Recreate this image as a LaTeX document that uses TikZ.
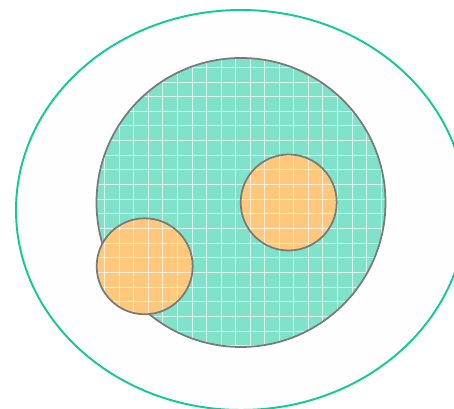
\documentclass[tikz,border=0pt]{standalone}
\usepackage{tikz}

\definecolor{rimgreen}{HTML}{14C998}
\definecolor{mint}{HTML}{80E2C8}
\definecolor{peach}{HTML}{FFC87C}
\definecolor{edgegray}{HTML}{7A7A7A}

% grid over whatever is clipped
\newcommand{\whitegrid}{%
  \foreach \k in {-12,...,20} {
    \draw[gridline] (148.3+14.55*\k, 0) -- (148.3+14.55*\k, 409);
    \draw[gridline] (0, 341.7-14.65*\k) -- (454, 341.7-14.65*\k);
  }}

\begin{document}
\begin{tikzpicture}[
    x=0.02cm, y=0.02cm,
    outer/.style={draw=rimgreen, line width=1.1pt, fill=gray!1},
    bigdisc/.style={fill=mint},
    spot/.style={fill=peach},
    rim/.style={draw=edgegray, line width=1pt},
    gridline/.style={white, line width=0.5pt, opacity=0.7}
]
\useasboundingbox (0,0) rectangle (454,409);
\clip (0,0) rectangle (454,409);

% outer ellipse
\draw[outer] (241,199) ellipse [x radius=225, y radius=200];

% big disc with grid
\fill[bigdisc] (241,206.5) circle (144.5);
\begin{scope}
  \clip (241,206.5) circle (144.5);
  \whitegrid
\end{scope}
\draw[rim] (241,206.5) circle (144.5);

% two spots
\foreach \cx/\cy in {288.7/206.5, 144.7/142.7} {
  \fill[spot] (\cx,\cy) circle (48);
  \begin{scope}
    \clip (\cx,\cy) circle (48);
    \whitegrid
  \end{scope}
  \draw[rim] (\cx,\cy) circle (48);
}
\end{tikzpicture}
\end{document}
